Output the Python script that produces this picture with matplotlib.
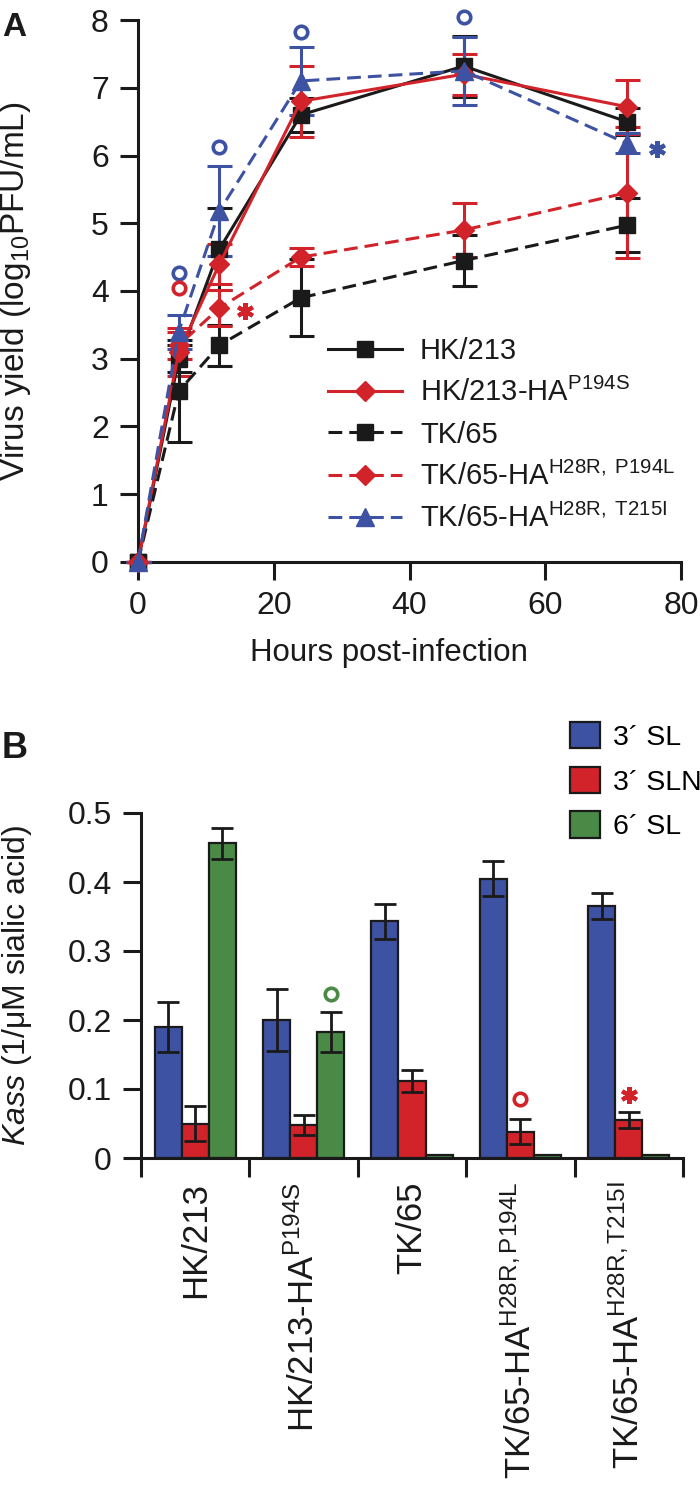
import matplotlib
matplotlib.use("Agg")
import matplotlib.pyplot as plt
import numpy as np

plt.rcParams['font.family'] = ['Liberation Sans', 'DejaVu Sans']
plt.rcParams['mathtext.fontset'] = 'custom'
plt.rcParams['mathtext.rm'] = 'Liberation Sans'
plt.rcParams['mathtext.it'] = 'Liberation Sans:italic'
plt.rcParams['mathtext.bf'] = 'Liberation Sans:bold'

# ---------------- Panel A data ----------------
hours = [0, 6, 12, 24, 48, 72]
series_names = ["HK/213",
                "HK/213-HA$^{\\mathregular{P194S}}$",
                "TK/65",
                "TK/65-HA$^{\\mathregular{H28R,\\ P194L}}$",
                "TK/65-HA$^{\\mathregular{H28R,\\ T215I}}$"]
hk213 = [0, 3.0, 4.62, 6.6, 7.32, 6.5]
hk213_err = [0, 0.2, 0.6, 0.25, 0.45, 0.2]
hk213ha = [0, 3.1, 4.4, 6.8, 7.2, 6.72]
hk213ha_err = [0, 0.35, 0.3, 0.52, 0.3, 0.4]
tk65 = [0, 2.52, 3.2, 3.9, 4.45, 4.97]
tk65_err = [0, 0.75, 0.3, 0.57, 0.37, 0.4]
tk65ha_p194l = [0, 3.2, 3.75, 4.5, 4.9, 5.45]
tk65ha_p194l_err = [0, 0.2, 0.27, 0.13, 0.4, 0.97]
tk65ha_t215i = [0, 3.4, 5.18, 7.1, 7.25, 6.18]
tk65ha_t215i_err = [0, 0.25, 0.67, 0.5, 0.5, 0.15]

# significance marks (x, y)
sigA_blue_o = ([6, 12, 24, 48], [4.26, 6.13, 7.82, 8.05])
sigA_red_o = ([6], [4.04])
sigA_red_star = ([15.7], [3.7])
sigA_blue_star = ([76.5], [6.1])

# ---------------- Panel B data ----------------
strains = ["HK/213",
           "HK/213-HA$^{\\mathregular{P194S}}$",
           "TK/65",
           "TK/65-HA$^{\\mathregular{H28R,P194L}}$",
           "TK/65-HA$^{\\mathregular{H28R,T215I}}$"]
glycans = ["3\u00b4 SL", "3\u00b4 SLN", "6\u00b4 SL"]
sl3 = [0.19, 0.20, 0.343, 0.405, 0.365]
sl3_err = [0.036, 0.045, 0.025, 0.025, 0.019]
sln3 = [0.05, 0.048, 0.112, 0.038, 0.055]
sln3_err = [0.025, 0.014, 0.016, 0.018, 0.011]
sl6 = [0.456, 0.183, 0.004, 0.004, 0.004]
sl6_err = [0.022, 0.029, 0.0, 0.0, 0.0]

# significance marks: (group index, bar index, y)
sigB_o = [(1, 2, 0.237, 'green'), (3, 1, 0.085, 'red')]
sigB_star = [(4, 1, 0.092, 'red')]

BLACK = '#1a1a1a'
RED = '#d2232a'
BLUE = '#3e52a3'
GREEN = '#4a8a46'
LW = 2.2
DASH = (0, (4.5, 2.3))

fig = plt.figure(figsize=(7, 14.91), dpi=100)

# ================= Panel A =================
axA = fig.add_axes([138/700, 1-562/1491, (681-138)/700, (562-20)/1491])
styles = [
    (hk213, hk213_err, BLACK, '-', 's', 11),
    (hk213ha, hk213ha_err, RED, '-', 'D', 10),
    (tk65, tk65_err, BLACK, DASH, 's', 11),
    (tk65ha_p194l, tk65ha_p194l_err, RED, DASH, 'D', 10),
    (tk65ha_t215i, tk65ha_t215i_err, BLUE, DASH, '^', 13),
]
handles = []
for (vals, errs, col, ls, mk, ms), name in zip(styles, series_names):
    eb = axA.errorbar(hours, vals, yerr=errs, color=col, ls=ls, marker=mk, ms=ms,
                      mfc=col, mec=col, lw=LW, elinewidth=LW, capsize=9, capthick=LW,
                      clip_on=False, zorder=3)
    for a in eb.lines[1]:
        a.set_clip_on(False)
    for a in eb.lines[2]:
        a.set_clip_on(False)
    line, = axA.plot([], [], color=col, ls=ls, marker=mk, ms=ms, lw=LW, mfc=col, mec=col)
    handles.append(line)

axA.plot(*sigA_blue_o, ls='none', marker='o', ms=9, mfc='none', mec=BLUE, mew=2.6, clip_on=False)
axA.plot(*sigA_red_o, ls='none', marker='o', ms=9, mfc='none', mec=RED, mew=2.6, clip_on=False)
axA.plot(*sigA_red_star, ls='none', marker=(6, 2, 0), ms=12, mec=RED, mew=3, clip_on=False)
axA.plot(*sigA_blue_star, ls='none', marker=(6, 2, 0), ms=12, mec=BLUE, mew=3, clip_on=False)

axA.set_xlim(0, 80)
axA.set_ylim(0, 8)
axA.set_xticks([0, 20, 40, 60, 80])
axA.set_yticks(range(0, 9))
for s in ['top', 'right']:
    axA.spines[s].set_visible(False)
for s in ['left', 'bottom']:
    axA.spines[s].set_linewidth(LW)
    axA.spines[s].set_color(BLACK)
axA.tick_params(axis='both', direction='out', length=13, width=LW, labelsize=23,
                color=BLACK, labelcolor=BLACK)
axA.tick_params(axis='y', pad=8)
axA.tick_params(axis='x', pad=8)
axA.set_ylabel("Virus yield (log$_{\\mathregular{10}}$PFU/mL)", fontsize=24, color=BLACK)
axA.yaxis.set_label_coords(-0.193, 0.5)
axA.set_xlabel("Hours post-infection", fontsize=22.5, color=BLACK)
axA.xaxis.set_label_coords(0.462, -0.14)

legA = axA.legend(handles, series_names, loc='upper left', bbox_to_anchor=(0.35, 0.415),
                  frameon=False, fontsize=21, handlelength=2.55, handletextpad=0.6,
                  labelspacing=0.45, borderpad=0, borderaxespad=0, numpoints=1)
for t in legA.get_texts():
    t.set_color(BLACK)

fig.text(2/700, 1-36/1491, "A", fontsize=24, fontweight='bold', color=BLACK, ha='left', va='baseline')

# ================= Panel B =================
axB = fig.add_axes([141/700, 1-1158/1491, (683-141)/700, (1158-813)/1491])
x = np.arange(len(strains))
w = 0.25
bar_sets = [(sl3, sl3_err, BLUE), (sln3, sln3_err, RED), (sl6, sl6_err, GREEN)]
bar_handles = []
for k, (vals, errs, col) in enumerate(bar_sets):
    pos = x + (k - 1) * w
    b = axB.bar(pos, vals, width=w, color=col, edgecolor=BLACK, linewidth=1.6, zorder=2)
    bar_handles.append(b)
    e = np.array(errs)
    mask = e > 0
    axB.errorbar(pos[mask], np.array(vals)[mask], yerr=e[mask], ls='none', color=BLACK,
                 elinewidth=2.0, capsize=8, capthick=2.0, zorder=3)

for gi, bi, yv, c in sigB_o:
    axB.plot([x[gi] + (bi - 1) * w], [yv], ls='none', marker='o', ms=9, mfc='none',
             mec=GREEN if c == 'green' else RED, mew=2.6)
for gi, bi, yv, c in sigB_star:
    axB.plot([x[gi] + (bi - 1) * w], [yv], ls='none', marker=(6, 2, 0), ms=12, mec=RED, mew=3)

axB.set_xlim(-0.5, 4.5)
axB.set_ylim(0, 0.5)
axB.set_yticks([0, 0.1, 0.2, 0.3, 0.4, 0.5])
axB.set_yticklabels(["0", "0.1", "0.2", "0.3", "0.4", "0.5"])
axB.set_xticks(x)
axB.set_xticklabels(strains, rotation=90, va='top', ha='center', fontsize=25)
axB.set_xticks(np.arange(-0.5, 5.0, 1.0), minor=True)
for s in ['top', 'right']:
    axB.spines[s].set_visible(False)
for s in ['left', 'bottom']:
    axB.spines[s].set_linewidth(LW)
    axB.spines[s].set_color(BLACK)
axB.tick_params(axis='y', direction='out', length=13, width=LW, labelsize=23, pad=8,
                color=BLACK, labelcolor=BLACK)
axB.tick_params(axis='x', which='major', length=0, pad=17, labelcolor=BLACK)
axB.tick_params(axis='x', which='minor', direction='out', length=13.5, width=LW, color=BLACK)
axB.set_ylabel("$\\mathit{Kass}$ (1/\u03bcM sialic acid)", fontsize=23, color=BLACK)
axB.yaxis.set_label_coords(-0.197, 0.5)

legB = axB.legend(bar_handles, glycans, loc='upper left', bbox_to_anchor=((570-141)/542, (1158-722)/345),
                  frameon=False, fontsize=20.5, handlelength=1.05, handleheight=1.05,
                  handletextpad=0.45, labelspacing=0.55, borderpad=0, borderaxespad=0)

fig.text(2/700, 1-758/1491, "B", fontsize=26, fontweight='bold', color=BLACK, ha='left', va='baseline')

fig.savefig("out.png", dpi=100)
